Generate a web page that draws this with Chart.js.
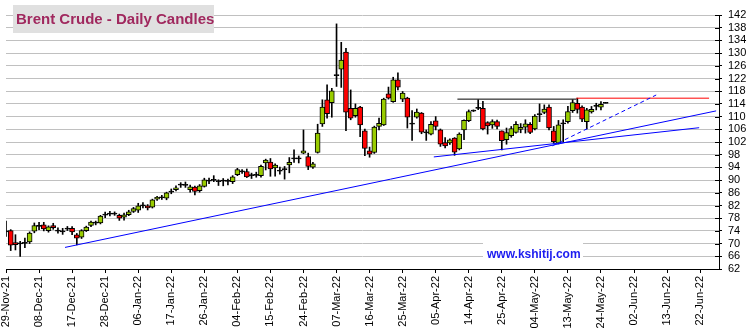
<!DOCTYPE html>
<html><head><meta charset="utf-8">
<script src="https://cdn.jsdelivr.net/npm/chart.js@4.4.0/dist/chart.umd.min.js"></script>
<style>html,body{margin:0;padding:0;background:#fff;}#wrap{width:752px;height:336px;}</style>
</head><body><div id="wrap"><canvas id="c" width="752" height="336"></canvas></div>
<script>
const tickLabels = ['29-Nov-21','08-Dec-21','17-Dec-21','28-Dec-21','06-Jan-22','17-Jan-22','26-Jan-22','04-Feb-22','15-Feb-22','24-Feb-22','07-Mar-22','16-Mar-22','25-Mar-22','05-Apr-22','14-Apr-22','25-Apr-22','04-May-22','13-May-22','24-May-22','02-Jun-22','13-Jun-22','22-Jun-22'];
const opens = [73.8,74.1,70.3,69.9,70.1,70.5,73.9,75.5,75.9,74.1,75.7,74.2,73.8,74.6,74.8,72.8,72.0,74.1,75.7,76.7,76.5,79.0,79.5,79.4,78.9,78.3,79.1,80.1,80.5,82.1,81.9,81.5,84.0,84.7,84.3,86.3,87.0,88.5,88.6,87.0,87.8,86.7,88.0,89.9,89.9,89.7,89.9,89.7,89.5,91.7,92.8,92.7,91.5,91.6,91.4,95.4,95.7,93.8,93.0,93.4,94.8,96.8,96.8,98.5,97.4,94.1,98.7,107.7,115.3,114.4,123.0,124.9,130.3,112.6,110.3,113.0,105.5,99.2,98.7,106.9,107.4,117.2,114.7,121.6,115.5,115.8,107.8,109.8,111.1,105.1,104.5,108.7,105.8,101.8,101.7,103.2,99.8,105.8,108.7,111.8,112.6,112.6,108.1,107.4,108.4,105.5,102.7,104.0,105.0,106.0,106.7,107.6,106.1,110.7,111.3,113.0,105.5,101.6,107.8,108.4,111.9,114.2,113.0,108.4,111.5,113.3,113.0,114.3];
const highs = [77.1,74.4,72.8,70.7,71.7,73.7,76.5,76.7,76.7,75.6,76.4,75.0,74.8,75.4,75.4,73.2,74.4,75.5,77.1,77.1,78.9,79.9,80.2,80.0,79.3,79.6,80.5,81.4,82.7,82.9,82.3,84.0,84.9,85.2,86.2,87.2,88.2,89.2,89.4,88.4,88.1,88.6,90.6,90.6,91.4,90.1,90.5,90.3,91.4,93.7,93.3,93.5,92.2,92.5,94.7,96.6,96.8,95.1,94.1,94.3,97.1,99.5,97.6,105.8,98.5,95.6,107.6,115.3,120.0,118.9,139.2,133.4,131.5,118.4,114.0,113.2,106.1,100.4,107.0,109.5,115.8,119.3,122.4,123.8,117.9,116.1,111.9,112.4,111.3,105.8,108.4,110.0,106.1,103.4,103.0,103.4,104.9,109.0,112.1,112.1,115.3,114.8,108.4,109.0,108.9,105.5,106.4,106.9,108.4,107.8,109.0,108.1,110.6,114.0,113.7,113.7,106.9,108.8,109.0,113.2,115.3,115.8,113.4,112.6,113.2,114.2,114.7,114.5];
const lows = [72.3,67.8,68.0,66.0,68.7,70.0,73.4,74.4,74.0,73.6,74.5,73.3,72.9,74.1,72.8,69.6,71.6,73.8,75.3,75.9,76.2,78.2,78.7,78.9,77.3,77.4,78.8,79.8,79.8,81.2,80.6,81.2,83.6,83.9,83.8,85.7,86.6,87.7,87.7,86.2,85.3,86.2,87.8,88.9,89.5,88.3,88.2,88.5,88.9,91.4,92.1,90.8,90.5,90.9,90.9,93.2,91.2,91.2,91.9,90.3,92.3,95.6,95.4,98.3,93.3,93.7,98.5,106.9,109.5,109.8,119.5,119.2,105.6,109.0,109.8,103.7,97.7,97.2,98.4,105.8,107.2,115.5,114.5,118.4,114.7,106.4,102.5,109.5,104.6,102.5,104.2,105.8,100.6,100.1,101.2,97.8,99.5,102.7,108.4,111.6,112.2,105.8,104.5,106.3,106.1,99.5,101.3,103.5,104.8,104.9,104.8,104.6,105.8,108.4,110.9,105.8,101.6,101.4,102.1,107.9,111.3,111.1,108.4,106.1,111.1,112.1,112.1,114.3];
const closes = [73.9,69.5,69.7,70.2,70.4,73.3,75.7,75.6,74.6,75.3,75.0,74.0,73.9,74.8,73.7,71.7,74.1,75.2,76.8,76.5,78.7,79.2,79.4,79.5,78.0,79.1,80.0,81.0,81.9,82.0,81.2,83.8,84.6,84.5,86.0,86.5,87.6,88.7,88.4,87.9,86.4,88.2,90.1,89.7,90.2,89.6,89.8,89.8,91.0,93.3,92.7,91.0,91.6,91.7,94.3,96.3,93.5,94.7,92.9,93.5,95.6,96.9,96.9,99.2,94.3,95.1,104.8,113.0,110.9,118.1,123.2,127.8,111.4,109.5,112.6,107.4,100.0,98.2,106.7,107.9,115.5,115.8,121.6,119.3,117.4,109.8,107.7,111.4,105.1,105.0,107.6,106.9,101.3,100.8,102.7,98.8,104.5,108.8,111.6,111.9,112.9,106.1,107.1,108.4,106.9,102.4,105.0,106.2,107.6,106.6,107.7,105.0,110.2,110.8,112.4,106.4,102.1,107.4,107.9,111.6,114.4,112.3,109.2,112.1,112.3,113.4,113.9,114.4];
// trend lines: [index, price]
const trendA = [[12.5,68.8],[150.4,111.8]];
const trendB = [[90.6,97.3],[146.8,106.5]];
const trendC = [[115.7,100.8],[137.7,116.8]];
const resBlack = [[95.6,115.5],[120.8,115.5]];
const resRed = [[120.8,115.8],[148.9,115.8]];

const GREEN = '#99cc00', RED = '#ff0000';
const wickData = highs.map((h,i)=>({x:i, y:[lows[i], h]}));
const bodyData = opens.map((o,i)=>{
  let lo = Math.min(o, closes[i]), hi = Math.max(o, closes[i]);
  if (hi - lo < 0.35) { const m = (lo+hi)/2; lo = m-0.17; hi = m+0.17; }
  return {x:i, y:[lo, hi]};
});
const bodyColors = opens.map((o,i)=>{
  const d = closes[i]-o;
  if (Math.abs(d) < 0.35) return '#000000';
  return d > 0 ? GREEN : RED;
});
const toPts = a => a.map(p=>({x:p[0], y:p[1]}));
const lineDs = (pts, color, dash) => ({type:'line', data: toPts(pts), borderColor: color, borderWidth: 1, pointRadius: 0, borderDash: dash||[], fill:false, tension:0, order:-1});

const FONT = 'Liberation Sans, Arial, sans-serif';
const decor = {
  id:'decor',
  afterDraw(chart){
    const ctx = chart.ctx; const y = chart.scales.y; const ca = chart.chartArea;
    ctx.save();
    ctx.strokeStyle = '#000'; ctx.lineWidth = 1;
    y.ticks.forEach(t=>{ const py = Math.round(y.getPixelForValue(t.value))+0.5; ctx.beginPath(); ctx.moveTo(ca.right-4, py); ctx.lineTo(ca.right, py); ctx.stroke(); });
    ctx.fillStyle = '#e0e0e0'; ctx.fillRect(13,5,201,28);
    ctx.fillStyle = '#a0285e'; ctx.font = 'bold 15px '+FONT; ctx.textBaseline='middle'; ctx.textAlign='left';
    ctx.fillText('Brent Crude - Daily Candles', 16, 19.5);
    ctx.fillStyle = '#ffffff'; ctx.fillRect(483,240,100,22);
    ctx.fillStyle = '#1c1cf0'; ctx.font = 'bold 12px '+FONT;
    ctx.fillText('www.kshitij.com', 487, 255);
    ctx.restore();
  }
};

new Chart(document.getElementById('c'), {
  type:'bar',
  data:{ datasets:[
    lineDs(trendA,'#0000ff'), lineDs(trendB,'#0000ff'), lineDs(trendC,'#0000ff',[4,3]),
    lineDs(resBlack,'#000000'), lineDs(resRed,'#ff0000'),
    {type:'bar', data: bodyData, backgroundColor: bodyColors, borderColor:'#000', borderWidth:1, borderSkipped:false, barThickness:5, grouped:false, order:0},
    {type:'bar', data: wickData, backgroundColor:'#000', borderWidth:0, barThickness:1, grouped:false, order:1}
  ]},
  options:{
    responsive:false, animation:false, devicePixelRatio:1,
    layout:{padding:{left:6, top:15, right:0, bottom:0}},
    plugins:{legend:{display:false}, tooltip:{enabled:false}},
    scales:{
      x:{type:'linear', min:0, max:151, offset:false,
        grid:{offset:false, drawOnChartArea:false, drawTicks:true, tickLength:4, tickColor:'#000'},
        border:{display:true, color:'#000'},
        afterBuildTicks(s){ s.ticks = tickLabels.map((l,k)=>({value:k*7})); },
        ticks:{autoSkip:false, minRotation:90, maxRotation:90, padding:3, color:'#000', font:{family:FONT, size:11},
          callback(v, idx){ return tickLabels[idx]; }},
        afterFit(s){ s.height = 67; }
      },
      y:{position:'right', min:62, max:142,
        grid:{color:'#c0c0c0', tickColor:'#000', tickLength:3, drawTicks:true},
        border:{display:true, color:'#000'},
        ticks:{stepSize:4, autoSkip:false, padding:6, color:'#000', font:{family:FONT, size:11}},
        afterFit(s){ s.width = 33; }
      }
    }
  },
  plugins:[decor]
});
</script></body></html>
